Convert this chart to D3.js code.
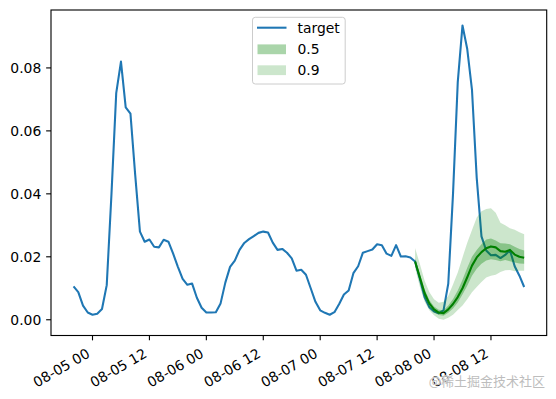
<!DOCTYPE html>
<html><head><meta charset="utf-8">
<script src="https://cdn.jsdelivr.net/npm/d3@7"></script>
<style>
body{margin:0;background:#fff;}
svg{display:block;font-family:"DejaVu Sans",sans-serif;}
</style>
</head><body>
<svg id="chart" width="556" height="399"></svg>
<script>
// ---------------- data ----------------
const targetStart = "2021-08-04T20:00:00Z"; // hourly
const target = [
  0.0106,0.0088,0.0045,0.0023,0.0016,0.0019,0.0034,0.0110,0.0400,0.0720,
  0.0820,0.0675,0.0655,0.0460,0.0280,0.0248,0.0255,0.0232,0.0230,0.0254,
  0.0248,0.0210,0.0168,0.0130,0.0111,0.0115,0.0070,0.0038,0.0023,0.0023,
  0.0024,0.0052,0.0118,0.0168,0.0188,0.0222,0.0244,0.0256,0.0266,0.0276,
  0.0280,0.0277,0.0245,0.0222,0.0225,0.0213,0.0195,0.0156,0.0159,0.0143,
  0.0100,0.0057,0.0030,0.0022,0.0016,0.0024,0.0050,0.0080,0.0093,0.0148,
  0.0170,0.0213,0.0218,0.0223,0.0240,0.0237,0.0210,0.0203,0.0237,0.0201,
  0.0202,0.0198,0.0185,0.0130,0.0072,0.0040,0.0026,0.0021,0.0030,0.0115,
  0.0400,0.0755,0.0935,0.0860,0.0730,0.0450,0.0265,0.0220,0.0205,0.0206,
  0.0196,0.0206,0.0221,0.0170,0.0140,0.0104
];
const forecastStart = "2021-08-07T20:00:00Z"; // hourly, 24 steps
const median = [
  0.0185,0.0135,0.0085,0.0052,0.0033,0.0023,0.0021,0.0033,0.0050,0.0072,
  0.0100,0.0135,0.0172,0.0198,0.0215,0.0227,0.0233,0.0230,0.0218,0.0216,
  0.0222,0.0207,0.0200,0.0197
];
const q25 = [
  0.0175,0.0122,0.0072,0.0040,0.0024,0.0015,0.0013,0.0022,0.0036,0.0055,
  0.0080,0.0108,0.0140,0.0162,0.0178,0.0188,0.0192,0.0190,0.0186,0.0190,
  0.0186,0.0182,0.0179,0.0178
];
const q75 = [
  0.0195,0.0148,0.0098,0.0063,0.0042,0.0032,0.0030,0.0045,0.0066,0.0093,
  0.0127,0.0165,0.0200,0.0222,0.0240,0.0255,0.0258,0.0252,0.0243,0.0242,
  0.0240,0.0232,0.0225,0.0220
];
const q05 = [
  0.0165,0.0105,0.0058,0.0030,0.0014,0.0003,0.0000,0.0006,0.0016,0.0031,
  0.0045,0.0065,0.0087,0.0104,0.0120,0.0134,0.0140,0.0143,0.0152,0.0157,
  0.0158,0.0154,0.0156,0.0156
];
const q95 = [
  0.0228,0.0178,0.0125,0.0088,0.0065,0.0054,0.0057,0.0076,0.0112,0.0150,
  0.0198,0.0245,0.0285,0.0325,0.0345,0.0352,0.0354,0.0340,0.0308,0.0300,
  0.0291,0.0286,0.0278,0.0272
];
const xTickDates = ["2021-08-05T00:00:00Z","2021-08-05T12:00:00Z","2021-08-06T00:00:00Z",
  "2021-08-06T12:00:00Z","2021-08-07T00:00:00Z","2021-08-07T12:00:00Z",
  "2021-08-08T00:00:00Z","2021-08-08T12:00:00Z"];
const yTicks = [0.00, 0.02, 0.04, 0.06, 0.08];
const legendLabels = ["target", "0.5", "0.9"];
const watermark = "@稀土掘金技术社区";

// ---------------- layout ----------------
const W = 556, H = 399;
const plot = {left: 51, right: 546.7, top: 10, bottom: 335.5};
const FS = 13.9;
const blue = "#1f77b4", green = "#008000";

const svg = d3.select("#chart");

const t0 = new Date(targetStart);
const tDates = target.map((_, i) => d3.utcHour.offset(t0, i));
const f0 = new Date(forecastStart);
const fDates = median.map((_, i) => d3.utcHour.offset(f0, i));

const tStart = tDates[0], tEnd = tDates[tDates.length - 1];
const span = tEnd - tStart;
const x = d3.scaleUtc()
  .domain([new Date(+tStart - 0.05 * span), new Date(+tEnd + 0.05 * span)])
  .range([plot.left, plot.right]);
const y = d3.scaleLinear().domain([-0.0050, 0.0984]).range([plot.bottom, plot.top]);

const clipId = "clip";
svg.append("defs").append("clipPath").attr("id", clipId)
  .append("rect").attr("x", plot.left).attr("y", plot.top)
  .attr("width", plot.right - plot.left).attr("height", plot.bottom - plot.top);

const g = svg.append("g").attr("clip-path", `url(#${clipId})`);

// target line
g.append("path")
  .datum(target)
  .attr("fill", "none").attr("stroke", blue).attr("stroke-width", 2.08)
  .attr("stroke-linejoin", "round")
  .attr("d", d3.line().x((d, i) => x(tDates[i])).y(d => y(d)));

// bands
const area = (lo, hi) => d3.area().x((d, i) => x(fDates[i])).y0((d, i) => y(lo[i])).y1((d, i) => y(hi[i]));
g.append("path").datum(median).attr("fill", green).attr("fill-opacity", 0.5 - 0.5 / 3)
  .attr("d", area(q25, q75));
g.append("path").datum(median).attr("fill", green).attr("fill-opacity", 0.2)
  .attr("d", area(q05, q95));
// median
g.append("path")
  .datum(median)
  .attr("fill", "none").attr("stroke", green).attr("stroke-width", 2.08)
  .attr("stroke-linejoin", "round")
  .attr("d", d3.line().x((d, i) => x(fDates[i])).y(d => y(d)));

// frame
svg.append("rect").attr("x", plot.left).attr("y", plot.top)
  .attr("width", plot.right - plot.left).attr("height", plot.bottom - plot.top)
  .attr("fill", "none").attr("stroke", "#000").attr("stroke-width", 1.11);

// x axis
const tickLen = 4.86, pad = 4.86;
const xt = xTickDates.map(s => new Date(s));
const xAxis = svg.append("g");
xt.forEach(d => {
  const px = x(d);
  xAxis.append("line").attr("x1", px).attr("x2", px)
    .attr("y1", plot.bottom).attr("y2", plot.bottom + tickLen)
    .attr("stroke", "#000").attr("stroke-width", 1.11);
  const ax = px - 1.6, ay = plot.bottom + tickLen + pad + 11.2;
  xAxis.append("text")
    .attr("transform", `translate(${ax},${ay}) rotate(-30)`)
    .attr("text-anchor", "end")
    .attr("font-size", FS).attr("fill", "#000")
    .text(d3.utcFormat("%m-%d %H")(d));
});

// y axis
const yAxis = svg.append("g");
yTicks.forEach(v => {
  const py = y(v);
  yAxis.append("line").attr("x1", plot.left - tickLen).attr("x2", plot.left)
    .attr("y1", py).attr("y2", py).attr("stroke", "#000").attr("stroke-width", 1.11);
  yAxis.append("text").attr("x", plot.left - tickLen - pad).attr("y", py)
    .attr("dy", "0.36em").attr("text-anchor", "end")
    .attr("font-size", FS).attr("fill", "#000")
    .text(d3.format(".2f")(v));
});

// legend
const lg = svg.append("g");
lg.append("rect").attr("x", 252.5).attr("y", 17.3).attr("width", 92.7).attr("height", 66.7)
  .attr("rx", 2.8).attr("fill", "#fff").attr("fill-opacity", 0.8)
  .attr("stroke", "#cccccc").attr("stroke-width", 1);
const rowY = [27.7, 49.3, 70.2];
lg.append("line").attr("x1", 257).attr("x2", 286.5).attr("y1", rowY[0]).attr("y2", rowY[0])
  .attr("stroke", blue).attr("stroke-width", 2.08);
lg.append("rect").attr("x", 257.5).attr("y", rowY[1] - 4.9).attr("width", 28.5).attr("height", 9.8)
  .attr("fill", green).attr("fill-opacity", 0.5 - 0.5 / 3);
lg.append("rect").attr("x", 257.5).attr("y", rowY[2] - 4.9).attr("width", 28.5).attr("height", 9.8)
  .attr("fill", green).attr("fill-opacity", 0.2);
legendLabels.forEach((t, i) => {
  lg.append("text").attr("x", 297.5).attr("y", rowY[i]).attr("dy", "0.36em")
    .attr("font-size", FS).attr("fill", "#000").text(t);
});

// watermark
svg.append("text").attr("x", 545).attr("y", 386).attr("text-anchor", "end")
  .attr("font-family", "'Noto Sans CJK SC', sans-serif")
  .attr("font-size", 13).attr("fill", "#bdbdbd")
  .attr("stroke", "#ffffff").attr("stroke-width", 0.6).attr("paint-order", "stroke")
  .text(watermark);
</script>
</body></html>
